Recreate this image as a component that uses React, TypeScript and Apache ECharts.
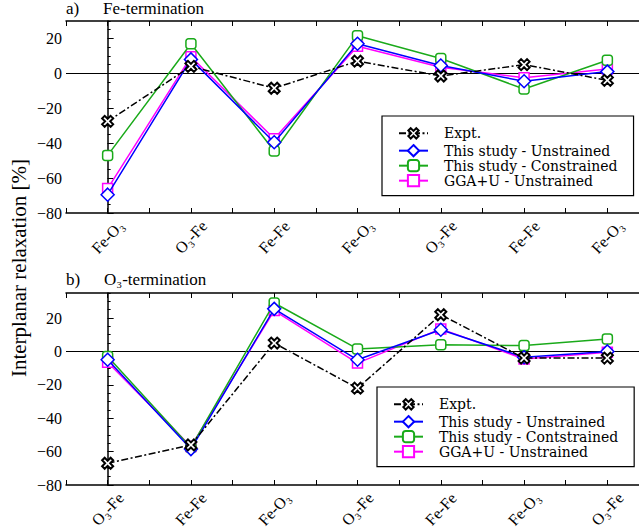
import React, { useEffect, useRef } from "react";
import * as echarts from "echarts";

const categoriesA = ["Fe-O₃", "O₃-Fe", "Fe-Fe", "Fe-O₃", "O₃-Fe", "Fe-Fe", "Fe-O₃"];
const categoriesB = ["O₃-Fe", "Fe-Fe", "Fe-O₃", "O₃-Fe", "Fe-Fe", "Fe-O₃", "O₃-Fe"];

const exptA = [-27.5, 4, -8.5, 7, -1.5, 5, -4];
const unstrA = [-69.5, 8, -39.5, 17, 4.5, -4.5, 1];
const constrA = [-47, 17, -44.5, 21.5, 8.5, -9, 7.5];
const ggaA = [-66, 9.5, -37.5, 15.5, 3.5, -2.5, 2.5];

const exptB = [-67, -56, 5, -22, 22, -4, -4];
const unstrB = [-5, -58.5, 25.5, -5, 13, -3.5, 0];
const constrB = [-3, -57.5, 29, 1.5, 4, 3.5, 7.5];
const ggaB = [-6.5, -57, 24.5, -7, 13.5, -4.5, -0.5];

const namesA = ["Expt.", "This study - Unstrained", "This study - Constrained", "GGA+U - Unstrained"];
const namesB = ["Expt.", "This study - Unstrained", "This study - Contstrained", "GGA+U - Unstrained"];

const yMaxA = 30;
const yMaxB = 35;
const yMin = -80;

const X_PATH =
  "path://M-0.3,-1L0.3,-1L0.3,-0.3L1,-0.3L1,0.3L0.3,0.3L0.3,1L-0.3,1L-0.3,0.3L-1,0.3L-1,-0.3L-0.3,-0.3Z";

const SERIF = "Liberation Serif";
const LEGEND_FONT = "DejaVu Serif";

function toPairs(vals: number[]) {
  return vals.map((v, i) => [i, v]);
}

function xAxes(gridIndex: number, cats: string[]) {
  const common = {
    type: "value",
    gridIndex,
    min: -0.5,
    max: 6.5,
    interval: 0.5,
    splitLine: { show: false },
    axisLine: { show: true, onZero: false, lineStyle: { color: "#000", width: 1.5 } },
    axisTick: { show: true, inside: true, length: 5, lineStyle: { color: "#000", width: 1 } },
  };
  return [
    {
      ...common,
      position: "bottom",
      axisLabel: {
        show: true,
        rotate: 47,
        align: "center",
        verticalAlign: "middle",
        margin: 24,
        fontFamily: SERIF,
        fontSize: 16,
        color: "#000",
        formatter: (v: number) => {
          const r = Math.round(v);
          return Math.abs(v - r) < 1e-6 && r >= 0 && r < cats.length ? cats[r] : "";
        },
      },
    },
    { ...common, position: "top", axisLabel: { show: false } },
  ];
}

function yAxes(gridIndex: number, max: number) {
  return [
    {
      type: "value",
      gridIndex,
      min: yMin,
      max,
      interval: 20,
      position: "left",
      splitLine: { show: false },
      axisLine: { show: true, lineStyle: { color: "#000", width: 1.5 } },
      axisTick: { show: true, inside: true, length: 6, lineStyle: { color: "#000", width: 1 } },
      axisLabel: {
        show: true,
        showMaxLabel: false,
        margin: 4,
        fontFamily: SERIF,
        fontSize: 16,
        color: "#000",
        formatter: (v: number) => (v < 0 ? "\u2212" + Math.abs(v) : String(v)),
      },
    },
    {
      type: "value",
      gridIndex,
      min: yMin,
      max,
      interval: 5,
      position: "left",
      splitLine: { show: false },
      axisLine: { show: false },
      axisTick: { show: true, inside: true, length: 3, lineStyle: { color: "#000", width: 1 } },
      axisLabel: { show: false },
    },
  ];
}

function seriesFor(
  names: string[],
  xi: number,
  yi: number,
  expt: number[],
  unstr: number[],
  constr: number[],
  gga: number[]
) {
  return [
    {
      name: names[0],
      type: "line",
      xAxisIndex: xi,
      yAxisIndex: yi,
      z: 5,
      data: toPairs(expt),
      symbol: X_PATH,
      symbolRotate: 45,
      symbolSize: 12,
      lineStyle: { color: "#000", width: 1.5, type: [7, 2.5, 2, 2.5] },
      itemStyle: { color: "#fff", borderColor: "#000", borderWidth: 2 },
      emphasis: { disabled: true },
    },
    {
      name: names[1],
      type: "line",
      xAxisIndex: xi,
      yAxisIndex: yi,
      z: 4,
      data: toPairs(unstr),
      symbol: "diamond",
      symbolSize: 13,
      lineStyle: { color: "#0000ff", width: 1.5 },
      itemStyle: { color: "#fff", borderColor: "#0000ff", borderWidth: 1.5 },
      emphasis: { disabled: true },
    },
    {
      name: names[2],
      type: "line",
      xAxisIndex: xi,
      yAxisIndex: yi,
      z: 3,
      data: toPairs(constr),
      symbol: "roundRect",
      symbolSize: 10,
      lineStyle: { color: "#1aaa1a", width: 1.5 },
      itemStyle: { color: "#fff", borderColor: "#1aaa1a", borderWidth: 1.5 },
      emphasis: { disabled: true },
    },
    {
      name: names[3],
      type: "line",
      xAxisIndex: xi,
      yAxisIndex: yi,
      z: 2,
      data: toPairs(gga),
      symbol: "rect",
      symbolSize: 10,
      lineStyle: { color: "#ff00ff", width: 1.5 },
      itemStyle: { color: "#fff", borderColor: "#ff00ff", borderWidth: 1.5 },
      emphasis: { disabled: true },
      markLine: {
        silent: true,
        symbol: ["none", "none"],
        label: { show: false },
        lineStyle: { color: "#000", width: 1, type: "solid" },
        data: [{ yAxis: 0 }],
        z: 1,
      },
    },
  ];
}

function legendFor(names: string[], left: number, top: number) {
  return {
    data: names,
    left,
    top,
    orient: "vertical",
    itemWidth: 29,
    itemHeight: 14,
    itemGap: 1,
    padding: [8, 16, 8, 16],
    borderColor: "#000",
    borderWidth: 1.2,
    backgroundColor: "#fff",
    selectedMode: false,
    formatter: (name: string) => `{t|${name}}`,
    textStyle: {
      fontFamily: LEGEND_FONT,
      fontSize: 14,
      color: "#000",
      rich: {
        t: {
          fontFamily: LEGEND_FONT,
          fontSize: 14,
          lineHeight: 14,
          color: "#000",
          padding: [0, 0, 0, 11],
        },
      },
    },
  };
}

export default function App() {
  const ref = useRef<HTMLDivElement>(null);
  useEffect(() => {
    if (!ref.current) return;
    const chart = echarts.init(ref.current, null, { renderer: "svg" });
    const option: any = {
      animation: false,
      backgroundColor: "#fff",
      textStyle: { fontFamily: SERIF },
      grid: [
        { left: 66, top: 21, width: 583, height: 192, outerBoundsMode: "none" },
        { left: 66, top: 293, width: 583, height: 192, outerBoundsMode: "none" },
      ],
      xAxis: [...xAxes(0, categoriesA), ...xAxes(1, categoriesB)],
      yAxis: [...yAxes(0, yMaxA), ...yAxes(1, yMaxB)],
      legend: [legendFor(namesA, 382, 116), legendFor(namesB, 377, 387)],
      series: [
        ...seriesFor(namesA, 0, 0, exptA, unstrA, constrA, ggaA),
        ...seriesFor(namesB, 2, 2, exptB, unstrB, constrB, ggaB),
      ],
      graphic: [
        { type: "text", left: 66, top: 0, style: { text: "a)", font: `17px "${SERIF}"`, fill: "#000" } },
        { type: "text", left: 103, top: 0, style: { text: "Fe-termination", font: `17px "${SERIF}"`, fill: "#000" } },
        { type: "text", left: 66, top: 271, style: { text: "b)", font: `17px "${SERIF}"`, fill: "#000" } },
        { type: "text", left: 104, top: 271, style: { text: "O₃-termination", font: `17px "${SERIF}"`, fill: "#000" } },
        {
          type: "text",
          x: 19,
          y: 268,
          rotation: Math.PI / 2,
          style: {
            text: "Interplanar relaxation [%]",
            font: `21px "${SERIF}"`,
            fill: "#000",
            align: "center",
            verticalAlign: "middle",
          },
        },
      ],
    };
    chart.setOption(option);
    return () => chart.dispose();
  }, []);
  return <div ref={ref} style={{ position: "absolute", left: 0, top: 0, width: 639, height: 531 }} />;
}
